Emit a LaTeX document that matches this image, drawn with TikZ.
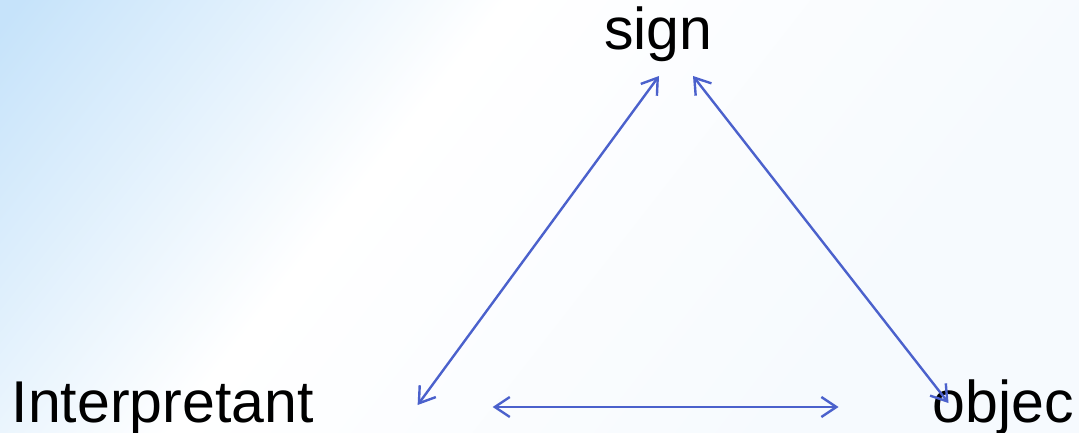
\documentclass[tikz,border=0pt]{standalone}
\usepackage{fontspec}
\setmainfont{Liberation Sans}
\usepackage{xcolor}
\definecolor{semibg}{HTML}{F6FAFE}
\definecolor{semisky}{HTML}{C6E3FA}
\definecolor{semilink}{HTML}{4B61CC}
\usepackage{tikz}
\usetikzlibrary{arrows.meta,calc}
\pgfdeclarehorizontalshading{semifade}{100bp}{color(0bp)=(semisky); color(16bp)=(semisky); color(27bp)=(semisky!55!white); color(40bp)=(white); color(70bp)=(semibg); color(100bp)=(semibg)}
\tikzset{
  semiterm/.style={inner sep=0pt,font=\fontsize{59}{71}\selectfont,text=black},
  semilink/.style={{Straight Barb[length=15pt,width=20pt]}-{Straight Barb[length=15pt,width=20pt]},line width=2.4pt,draw=semilink},
}
\begin{document}
\begin{tikzpicture}[x=1pt,y=-1pt]
\useasboundingbox (0,0) rectangle (1079,433);
\fill[semibg] (0,0) rectangle (1079,433);
\shade[shading=semifade,shading angle=-38] (0,0) rectangle (1079,433);
\node[semiterm,anchor=base](sign) at (658.5,50){sign};
\node[semiterm,anchor=base west](interp) at (11.5,422){Interpretant};
\node[semiterm,anchor=base west](obj) at (932.5,422){objec};
\draw[semilink]($(sign.base)+(0.5,26)$)--($(interp.base east)+(104,-17)$);
\draw[semilink]($(sign.base)+(34.5,26)$)--($(obj.base west)+(16,-19)$);
\draw[semilink]($(interp.base east)+(179,-15)$)--($(obj.base west)+(-94,-15)$);
\end{tikzpicture}
\end{document}
